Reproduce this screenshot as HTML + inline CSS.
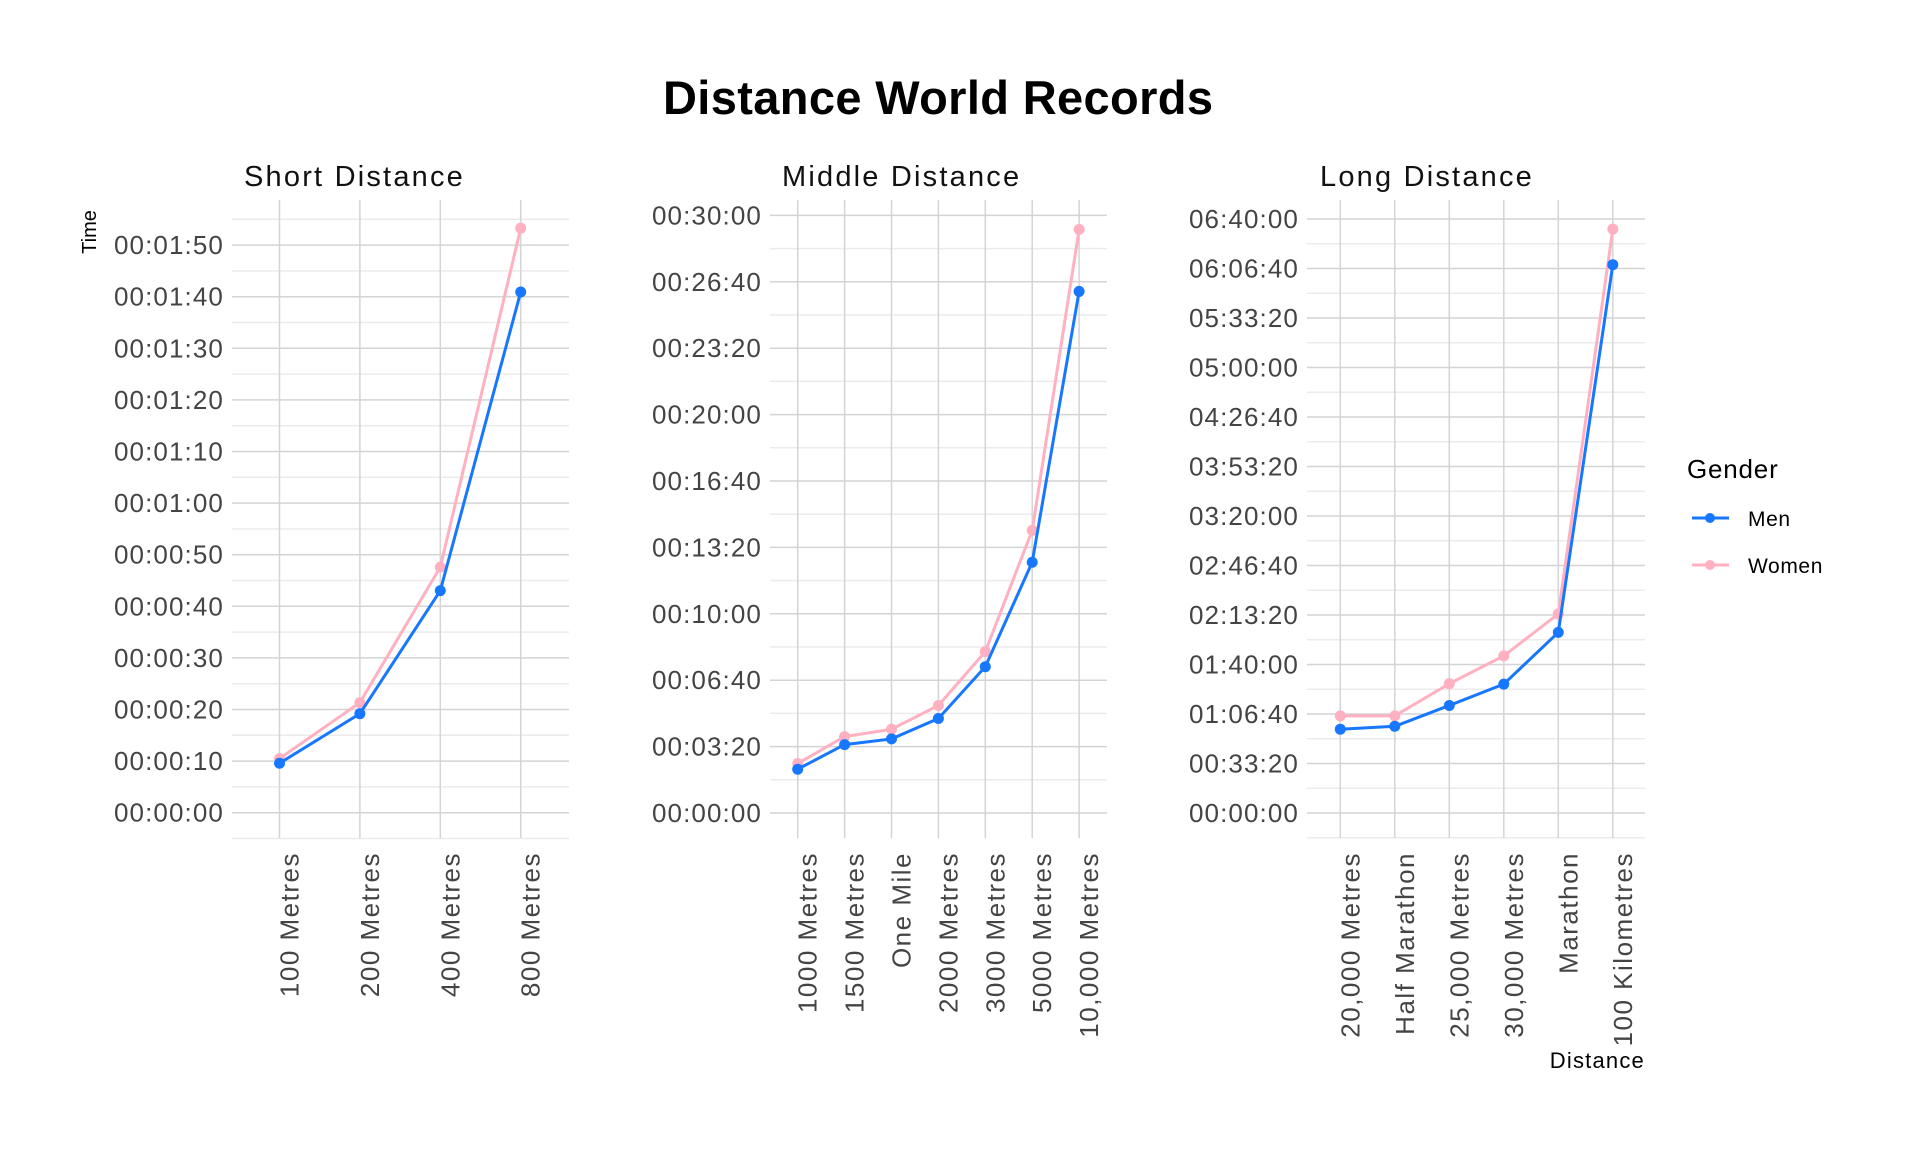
<!DOCTYPE html>
<html><head><meta charset="utf-8"><style>
html,body{margin:0;padding:0;background:#fff;}
svg{display:block;font-family:"Liberation Sans",sans-serif;}
</style></head><body>
<svg id="chart" width="1920" height="1152" viewBox="0 0 1920 1152" xmlns="http://www.w3.org/2000/svg">
<text x="938" y="114" text-anchor="middle" font-size="47" font-weight="bold" fill="#000" textLength="550">Distance World Records</text>
<text transform="translate(96,232) rotate(-90)" text-anchor="middle" font-size="20" fill="#000">Time</text>
<text x="1645" y="1081" text-anchor="end" font-size="22" letter-spacing="1.2" fill="#000" transform="translate(0,-13)">Distance</text>
<g transform="translate(-19,-5)">
<text x="1706" y="483" font-size="26" letter-spacing="0.8" fill="#000">Gender</text>
<g><line x1="1711" y1="523" x2="1748" y2="523" stroke="#1877ff" stroke-width="3"/><circle cx="1729" cy="523" r="5" fill="#1877ff"/><text x="1767" y="531" font-size="21" letter-spacing="0.6" fill="#000">Men</text></g>
<g><line x1="1711" y1="570" x2="1748" y2="570" stroke="#ffb0c1" stroke-width="3"/><circle cx="1729" cy="570" r="5" fill="#ffb0c1"/><text x="1767" y="578" font-size="21" letter-spacing="0.6" fill="#000">Women</text></g>
</g>
<g id="panels"></g>
</svg>
<script>
const shortCats = ["100 Metres","200 Metres","400 Metres","800 Metres"];
const shortMen = [9.58,19.19,43.03,100.91];
const shortWomen = [10.49,21.34,47.60,113.28];
const shortTicks = ["00:00:00","00:00:10","00:00:20","00:00:30","00:00:40","00:00:50","00:01:00","00:01:10","00:01:20","00:01:30","00:01:40","00:01:50"];

const midCats = ["1000 Metres","1500 Metres","One Mile","2000 Metres","3000 Metres","5000 Metres","10,000 Metres"];
const midMen = [131.96,206.00,223.13,284.79,440.67,755.36,1571.0];
const midWomen = [148.98,230.07,252.33,323.75,486.11,851.15,1757.45];
const midTicks = ["00:00:00","00:03:20","00:06:40","00:10:00","00:13:20","00:16:40","00:20:00","00:23:20","00:26:40","00:30:00"];

const longCats = ["20,000 Metres","Half Marathon","25,000 Metres","30,000 Metres","Marathon","100 Kilometres"];
const longMen = [3386,3503,4345,5207,7299,22154];
const longWomen = [3926,3926,5225,6350,8044,23591];
const longTicks = ["00:00:00","00:33:20","01:06:40","01:40:00","02:13:20","02:46:40","03:20:00","03:53:20","04:26:40","05:00:00","05:33:20","06:06:40","06:40:00"];

const NS="http://www.w3.org/2000/svg";
const root=document.getElementById('panels');
function mk(tag,attrs,parent){const e=document.createElementNS(NS,tag);for(const k in attrs)e.setAttribute(k,attrs[k]);parent.appendChild(e);return e;}

function panel(cfg){
  const g=mk('g',{},root);
  
  
  const y=v=>cfg.y0-(v/cfg.step)*cfg.stepPx;
  const x=i=>cfg.cx0+i*cfg.cdx;
  const top=200, bottom=838;
  for(let k=-0.5;k<cfg.ticks.length+0.5;k+=1){
    const yy=y(k*cfg.step); if(yy<top||yy>bottom+1) continue;
    const l=mk('line',{x1:cfg.left,x2:cfg.right,y1:yy,y2:yy,stroke:'#ebebeb','stroke-width':1.5},g);
    
  }
  cfg.ticks.forEach((t,k)=>{
    const yy=y(k*cfg.step);
    const l=mk('line',{x1:cfg.left,x2:cfg.right,y1:yy,y2:yy,stroke:'#d4d4d4','stroke-width':1.5},g);
    
    const tx=mk('text',{x:cfg.left-8,y:yy+9,'text-anchor':'end','font-size':26,'letter-spacing':1.1,fill:'#444'},g);
    tx.textContent=t;
    
    
  });
  cfg.cats.forEach((c,i)=>{
    const l=mk('line',{x1:x(i),x2:x(i),y1:top,y2:bottom,stroke:'#d4d4d4','stroke-width':1.5},g);
    
    const tx=mk('text',{transform:`translate(${x(i)+19},852) rotate(-90)`,'text-anchor':'end','font-size':26,'letter-spacing':1.5,fill:'#444'},g);
    tx.textContent=c;
    
    
  });
  const st=mk('text',{x:cfg.titleX,y:186,'font-size':29,'letter-spacing':2.2,fill:'#111'},g);
  st.textContent=cfg.title;
  
  
  [[cfg.women,'#ffb0c1','women'],[cfg.men,'#1877ff','men']].forEach(([vals,col,nm])=>{
    const pl=mk('polyline',{points:vals.map((v,i)=>x(i)+','+y(v)).join(' '),fill:'none',stroke:col,'stroke-width':3},g);
    
    
    vals.forEach((v,i)=>{
      const c=mk('circle',{cx:x(i),cy:y(v),r:5.5,fill:col},g);
      
      
    });
  });
}
panel({name:'short-distance-panel',title:'Short Distance',titleX:244,left:232,right:569,cx0:279.5,cdx:80.4,y0:812.7,step:10,stepPx:51.6,ticks:shortTicks,cats:shortCats,men:shortMen,women:shortWomen});
panel({name:'middle-distance-panel',title:'Middle Distance',titleX:782,left:770,right:1107,cx0:797.7,cdx:46.9,y0:813,step:200,stepPx:66.4,ticks:midTicks,cats:midCats,men:midMen,women:midWomen});
panel({name:'long-distance-panel',title:'Long Distance',titleX:1320,left:1307,right:1645,cx0:1340.3,cdx:54.5,y0:813,step:2000,stepPx:49.5,ticks:longTicks,cats:longCats,men:longMen,women:longWomen});
</script>
</body></html>
